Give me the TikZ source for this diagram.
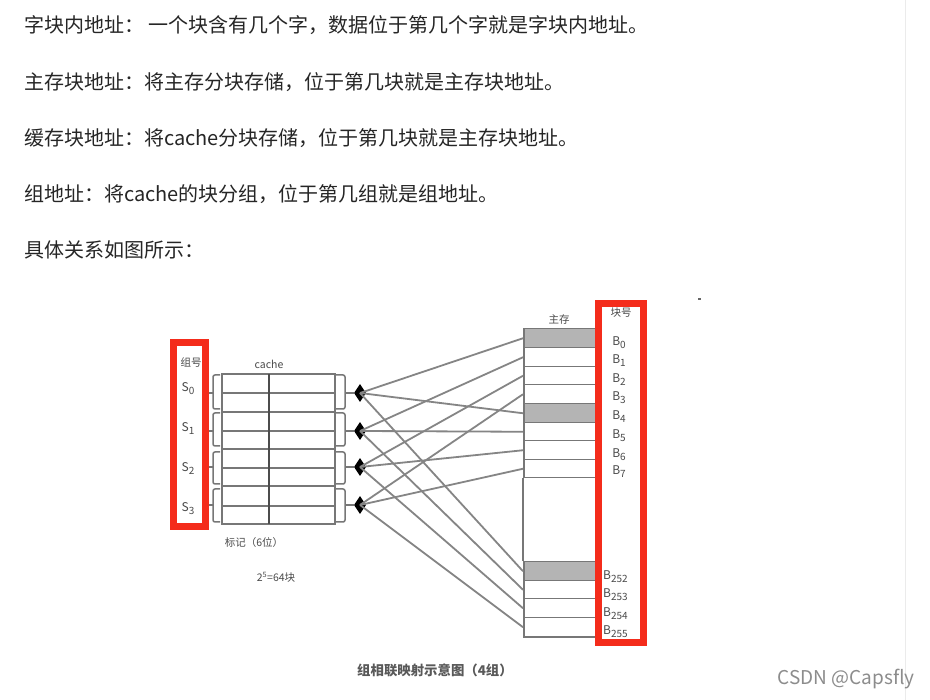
\documentclass[tikz,border=0pt]{standalone}
\usepackage{fontspec}
\setmainfont{Noto Sans CJK SC}
\usetikzlibrary{shapes,positioning,calc}
\definecolor{redbox}{HTML}{F42C1B}
\definecolor{linegray}{HTML}{777777}
\definecolor{cellgray}{HTML}{B4B4B4}
\definecolor{labelgray}{HTML}{4A4A4A}
\newcommand{\lowidx}[1]{\raisebox{-3pt}{\fontsize{10}{12}\selectfont #1}}
\tikzset{
    bodytext/.style={anchor=west, inner sep=0pt, text=black!85, font=\fontsize{20}{24}\selectfont},
    smalltext/.style={inner sep=0pt, text=labelgray, font=\fontsize{10.5}{12}\selectfont},
    idxtext/.style={inner sep=0pt, text=labelgray, font=\fontsize{12}{14}\selectfont},
    memrow/.style={draw=linegray, line width=1.5pt, minimum width=75pt, inner sep=0pt, anchor=north west},
    redframe/.style={draw=redbox, line width=7pt},
    bus/.style={draw=linegray!90, line width=1.8pt},
    cacheline/.style={linegray, line width=1.5pt},
    joint/.style={diamond, fill=black, inner sep=0pt, minimum width=12pt, minimum height=18pt}
}

\begin{document}
\begin{tikzpicture}[x=1pt,y=-1pt]
    \useasboundingbox[fill=white] (0,0) rectangle (930,700);
    \draw[black!8, line width=1pt] (905,0) -- (905,700);

    % Text lines
    \node[bodytext] (line1) at (24,25) {字块内地址： 一个块含有几个字，数据位于第几个字就是字块内地址。};
    \node[bodytext] (line2) at (24,82) {主存块地址：将主存分块存储，位于第几块就是主存块地址。};
    \node[bodytext] (line3) at (24,138) {缓存块地址：将cache分块存储，位于第几块就是主存块地址。};
    \node[bodytext] (line4) at (24,194) {组地址：将cache的块分组，位于第几组就是组地址。};
    \node[bodytext] (line5) at (24,250) {具体关系如图所示：};

    % Cache
    \draw[cacheline] (222,374) rectangle (335,524);
    \foreach \y in {393,412,431,449,468,486,506}
        \draw[cacheline] (222,\y) -- (335,\y);
    \draw[black!70, line width=1.2pt] (269,374) -- (269,524);
    \node[smalltext] (cachelabel) at (269,364) {cache};

    % Braces and joints
    \foreach \i/\top/\mid/\bot in {0/375/393/409, 1/413/431/446, 2/452/467/484, 3/489/505/522} {
        \draw[cacheline, rounded corners=2pt] (220,\top) -- (213,\top) -- (213,\bot) -- (220,\bot);
        \draw[cacheline] (213,\mid) -- (209,\mid);
        \draw[cacheline, rounded corners=2pt] (336,\top) -- (345,\top) -- (345,\bot) -- (336,\bot);
        \node[joint] (joint\i) at (360,\mid) {};
        \draw[cacheline] (345,\mid) -- (joint\i.west);
    }

    % Main memory
    \node[smalltext] (memlabel) at (559,320) {主存};
    \foreach \name/\top/\high/\col in {0/328/19/cellgray, 1/347/19/white, 2/366/18/white, 3/384/19/white,
        4/403/19/cellgray, 5/422/18/white, 6/440/19/white, 7/459/18/white,
        252/561/19/cellgray, 253/580/18/white, 254/598/19/white, 255/617/19/white}
        \node[memrow, fill=\col, minimum height=\high pt] (mem\name) at (523,\top) {};
    \draw[cacheline] (mem7.south west) -- (mem252.north west);

    % Connections
    \foreach \i/\a/\b/\c in {0/0/4/252, 1/1/5/253, 2/2/6/254, 3/3/7/255} {
        \draw[bus] (joint\i.center) -- (mem\a.west);
        \draw[bus] (joint\i.center) -- (mem\b.west);
        \draw[bus] (joint\i.center) -- (mem\c.west);
    }

    % Red frames
    \draw[redframe] (173.5,342.5) rectangle (205.5,526.5);
    \draw[redframe] (598.5,303.5) rectangle (643.5,642.5);

    % Labels
    \node[smalltext] (grouphead) at (191,363) {组号};
    \foreach \i/\y in {0/389,1/429,2/469,3/509}
        \node[idxtext] (set\i) at (188,\y) {S\lowidx{\i}};
    \node[smalltext] (blockhead) at (621,313) {块号};
    \foreach \i/\y in {0/343,1/361,2/380,3/398,4/417,5/436,6/455,7/472}
        \node[idxtext] (blk\i) at (619,\y) {B\lowidx{\i}};
    \foreach \i/\y in {252/577,253/595,254/614,255/632}
        \node[idxtext, anchor=west] (blk\i) at (603,\y) {B\lowidx{\i}};
    \node[smalltext] (taglabel) at (254,543) {标记（6位）};
    \node[smalltext] (sizelabel) at (276,577) {2\textsuperscript{5}=64块};
    \node[inner sep=0pt, text=black!65, font=\fontsize{13.4}{16}\selectfont\bfseries] (caption) at (435,670) {组相联映射示意图（4组）};
    \node[inner sep=0pt, anchor=east, text=black!45, font=\fontsize{19}{22}\selectfont] (mark) at (915,679) {CSDN @Capsfly};
    \fill[black!60] (698,298) rectangle (701,300);
\end{tikzpicture}
\end{document}
